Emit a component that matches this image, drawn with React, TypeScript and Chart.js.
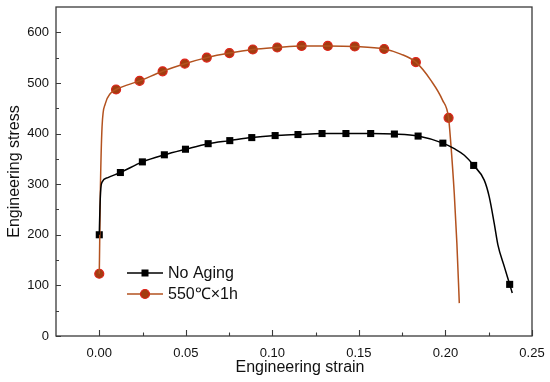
import React, { useEffect, useRef } from "react";
import { Chart, registerables } from "chart.js";

Chart.register(...registerables);

// ---- data ----
const noAgingStrain = [0, 0.0004, 0.0009, 0.0016, 0.005, 0.0122, 0.0249, 0.0376, 0.0498, 0.0629, 0.0754, 0.0881, 0.1016, 0.1148, 0.1287, 0.1425, 0.1568, 0.1705, 0.1842, 0.1985, 0.2051, 0.2109, 0.2163, 0.2224, 0.2253, 0.2282, 0.2303, 0.234, 0.2371, 0.2386];
const noAgingStress = [200, 255, 292, 304, 313, 323, 344, 358, 369, 380, 386, 392, 396, 398, 400, 400, 400, 399, 395, 381, 370, 357, 337, 308, 275, 222, 180, 137, 102, 85];
const noAgingMarkStrain = [0, 0.0122, 0.0249, 0.0376, 0.0498, 0.0629, 0.0754, 0.0881, 0.1016, 0.1148, 0.1287, 0.1425, 0.1568, 0.1705, 0.1842, 0.1985, 0.2163, 0.2371];
const noAgingMarkStress = [200, 323, 344, 358, 369, 380, 386, 392, 396, 398, 400, 400, 400, 399, 395, 381, 337, 102];

const agedStrain = [0, 0.0003, 0.0006, 0.0016, 0.0035, 0.0064, 0.0097, 0.0233, 0.0366, 0.0494, 0.0621, 0.0752, 0.0887, 0.1028, 0.1169, 0.132, 0.1476, 0.1646, 0.1742, 0.1829, 0.1916, 0.1983, 0.2018, 0.2031, 0.2051, 0.2066, 0.208];
const agedStress = [123, 200, 281, 413, 459, 479, 487, 504, 523, 538, 550, 559, 566, 570, 573, 573, 572, 567, 557, 541, 505, 466, 431, 380, 281, 183, 65];
const agedMarkStrain = [0, 0.0097, 0.0233, 0.0366, 0.0494, 0.0621, 0.0752, 0.0887, 0.1028, 0.1169, 0.132, 0.1476, 0.1646, 0.1829, 0.2018];
const agedMarkStress = [123, 487, 504, 523, 538, 550, 559, 566, 570, 573, 573, 572, 567, 541, 431];

const seriesNames = ["No Aging", "550\u2103\u00d71h"];
const xMajorTicks = [0, 0.05, 0.1, 0.15, 0.2, 0.25];
const xMinorTicks = [0.025, 0.075, 0.125, 0.175, 0.225];
const yMajorTicks = [0, 100, 200, 300, 400, 500, 600];
const yMinorTicks = [50, 150, 250, 350, 450, 550];
const xTitle = "Engineering strain";
const yTitle = "Engineering stress";

const FONT = "'Liberation Sans', Arial, Helvetica, sans-serif";
const BLACK = "#000000";
const RED_LINE = "#b3521f";
const RED_FILL = "#a33c10";
const RED_EDGE = "#e0221a";
const AXIS = "#3a3a3a";

const zip = (xs: number[], ys: number[]) => xs.map((x, i) => ({ x, y: ys[i] }));

const framePlugin = {
  id: "frameTicks",
  afterDraw(chart: any) {
    const { ctx, chartArea, scales } = chart;
    const { left, right, top, bottom } = chartArea;
    const xs = scales.x;
    const ys = scales.y;
    ctx.save();
    ctx.strokeStyle = AXIS;
    ctx.lineWidth = 1.3;
    ctx.strokeRect(left, top, right - left, bottom - top);
    ctx.lineWidth = 1.1;
    ctx.beginPath();
    xMajorTicks.forEach((v) => {
      const px = Math.round(xs.getPixelForValue(v)) + 0.5;
      ctx.moveTo(px, bottom);
      ctx.lineTo(px, bottom - 6);
    });
    xMinorTicks.forEach((v) => {
      const px = Math.round(xs.getPixelForValue(v)) + 0.5;
      ctx.moveTo(px, bottom);
      ctx.lineTo(px, bottom - 3.5);
    });
    yMajorTicks.forEach((v) => {
      const py = Math.round(ys.getPixelForValue(v)) + 0.5;
      ctx.moveTo(left, py);
      ctx.lineTo(left + 5, py);
    });
    yMinorTicks.forEach((v) => {
      const py = Math.round(ys.getPixelForValue(v)) + 0.5;
      ctx.moveTo(left, py);
      ctx.lineTo(left + 3, py);
    });
    ctx.stroke();

    // axis titles
    ctx.fillStyle = "#111";
    ctx.font = `16px ${FONT}`;
    ctx.textAlign = "center";
    ctx.textBaseline = "middle";
    ctx.fillText(xTitle, (left + right) / 2 + 6, 368);
    ctx.save();
    ctx.translate(15, (top + bottom) / 2);
    ctx.rotate(-Math.PI / 2);
    ctx.fillText(yTitle, 0, 0);
    ctx.restore();

    // legend
    const lx0 = left + 71;
    const lx1 = left + 107;
    const rows = [top + 266, top + 287];
    ctx.lineWidth = 1.5;
    ctx.strokeStyle = BLACK;
    ctx.beginPath();
    ctx.moveTo(lx0, rows[0]);
    ctx.lineTo(lx1, rows[0]);
    ctx.stroke();
    ctx.fillStyle = BLACK;
    ctx.fillRect((lx0 + lx1) / 2 - 3.5, rows[0] - 3.5, 7, 7);
    ctx.strokeStyle = RED_LINE;
    ctx.beginPath();
    ctx.moveTo(lx0, rows[1]);
    ctx.lineTo(lx1, rows[1]);
    ctx.stroke();
    ctx.beginPath();
    ctx.arc((lx0 + lx1) / 2, rows[1], 4.5, 0, Math.PI * 2);
    ctx.fillStyle = RED_FILL;
    ctx.fill();
    ctx.strokeStyle = RED_EDGE;
    ctx.lineWidth = 1.2;
    ctx.stroke();

    ctx.fillStyle = "#111";
    ctx.font = `16px ${FONT}`;
    ctx.textAlign = "left";
    ctx.textBaseline = "middle";
    ctx.fillText(seriesNames[0], lx1 + 5, rows[0] + 1);
    ctx.fillText(seriesNames[1], lx1 + 5, rows[1] + 1);
    ctx.restore();
  },
};

export default function App() {
  const ref = useRef<HTMLCanvasElement | null>(null);

  useEffect(() => {
    if (!ref.current) return;
    const chart = new Chart(ref.current, {
      type: "line",
      data: {
        datasets: [
          {
            label: seriesNames[0] + " curve",
            data: zip(noAgingStrain, noAgingStress),
            borderColor: BLACK,
            borderWidth: 1.5,
            pointRadius: 0,
            cubicInterpolationMode: "monotone",
            fill: false,
          },
          {
            label: seriesNames[1] + " curve",
            data: zip(agedStrain, agedStress),
            borderColor: RED_LINE,
            borderWidth: 1.5,
            pointRadius: 0,
            cubicInterpolationMode: "monotone",
            fill: false,
          },
          {
            label: seriesNames[0],
            data: zip(noAgingMarkStrain, noAgingMarkStress),
            showLine: false,
            pointStyle: "rect",
            pointRadius: 5,
            pointBackgroundColor: BLACK,
            pointBorderColor: BLACK,
            pointBorderWidth: 0,
          },
          {
            label: seriesNames[1],
            data: zip(agedMarkStrain, agedMarkStress),
            showLine: false,
            pointStyle: "circle",
            pointRadius: 4.5,
            pointBackgroundColor: RED_FILL,
            pointBorderColor: RED_EDGE,
            pointBorderWidth: 1.2,
          },
        ],
      },
      options: {
        animation: false,
        responsive: false,
        maintainAspectRatio: false,
        layout: { padding: { top: 7, right: 18, left: 0, bottom: 0 } },
        plugins: {
          legend: { display: false },
          tooltip: { enabled: false },
        },
        scales: {
          x: {
            type: "linear",
            min: -0.025,
            max: 0.25,
            afterBuildTicks: (s: any) => {
              s.ticks = xMajorTicks.map((v) => ({ value: v }));
            },
            afterFit: (s: any) => {
              s.height = 46;
              s.paddingLeft = 0;
              s.paddingRight = 0;
            },
            grid: { display: false, drawTicks: false },
            border: { display: false },
            ticks: {
              padding: 10,
              color: "#111",
              font: { family: FONT, size: 13 },
              callback: (v: any) => Number(v).toFixed(2),
              maxRotation: 0,
            },
          },
          y: {
            type: "linear",
            min: 0,
            max: 650,
            afterBuildTicks: (s: any) => {
              s.ticks = yMajorTicks.map((v) => ({ value: v }));
            },
            afterFit: (s: any) => {
              s.width = 56;
              s.paddingTop = 0;
              s.paddingBottom = 0;
            },
            grid: { display: false, drawTicks: false },
            border: { display: false },
            ticks: {
              padding: 7,
              color: "#111",
              font: { family: FONT, size: 13 },
              callback: (v: any) => String(v),
            },
          },
        },
      },
      plugins: [framePlugin],
    });
    return () => chart.destroy();
  }, []);

  return (
    <div style={{ position: "fixed", left: 0, top: 0, width: 550, height: 382, background: "#fff" }}>
      <canvas ref={ref} width={550} height={382} style={{ width: 550, height: 382 }} />
    </div>
  );
}
